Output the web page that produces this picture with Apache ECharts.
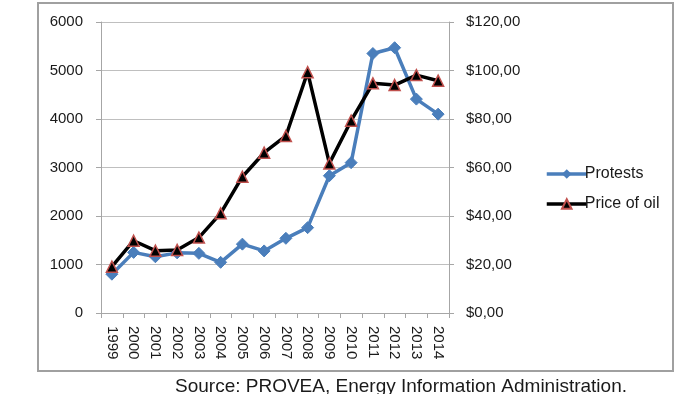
<!DOCTYPE html>
<html>
<head>
<meta charset="utf-8">
<script src="https://cdn.jsdelivr.net/npm/echarts@6/dist/echarts.min.js"></script>
<style>html,body{margin:0;padding:0;background:#fff}#c{width:700px;height:394px}</style>
</head>
<body>
<div id="c"></div>
<script>
var years = ['1999','2000','2001','2002','2003','2004','2005','2006','2007','2008','2009','2010','2011','2012','2013','2014'];
var protests = [800,1250,1160,1240,1230,1045,1420,1280,1540,1760,2830,3100,5350,5470,4410,4100];
var oilPrice = [19.1,29.8,25.7,26.0,31.1,41.1,56.2,66.1,73.0,99.3,61.7,79.3,94.7,94.0,98.1,95.8];
var sourceText = 'Source: PROVEA, Energy Information Administration.';

var chart = echarts.init(document.getElementById('c'));
var fontFam = '"Liberation Sans", Arial, sans-serif';
chart.setOption({
  animation: false,
  textStyle: { fontFamily: fontFam },
  grid: { left: 101, right: 251, top: 22, bottom: 81, containLabel: false },
  legend: {
    orient: 'vertical', left: 540, top: 161, itemGap: 14,
    itemWidth: 40, itemHeight: 12,
    lineStyle: { width: 3.5 },
    textStyle: { fontSize: 16, color: '#1a1a1a', fontFamily: fontFam, padding: [0,0,0,-7] },
    data: ['Protests', 'Price of oil']
  },
  xAxis: {
    type: 'category', data: years, boundaryGap: true,
    axisLine: { lineStyle: { color: '#a6a6a6', width: 1 } },
    axisTick: { show: true, length: 5, lineStyle: { color: '#a6a6a6' } },
    axisLabel: { rotate: -90, fontSize: 15, color: '#1a1a1a', margin: 13, interval: 0 }
  },
  yAxis: [
    { type: 'value', min: 0, max: 6000, interval: 1000, position: 'left',
      axisLine: { show: true, lineStyle: { color: '#a6a6a6' } },
      axisTick: { show: true, length: 5, inside: false, lineStyle: { color: '#a6a6a6' } },
      axisLabel: { fontSize: 15, color: '#1a1a1a', margin: 18,
        formatter: function (v) { return String(v); } },
      splitLine: { lineStyle: { color: '#bfbfbf' } } },
    { type: 'value', min: 0, max: 120, interval: 20, position: 'right',
      axisLine: { show: true, lineStyle: { color: '#a6a6a6' } },
      axisTick: { show: true, length: 5, lineStyle: { color: '#a6a6a6' } },
      axisLabel: { fontSize: 15, color: '#1a1a1a', margin: 17,
        formatter: function (v) { return '$' + v.toFixed(2).replace('.', ','); } },
      splitLine: { show: false } }
  ],
  series: [
    { name: 'Protests', type: 'line', yAxisIndex: 0, data: protests,
      symbol: 'diamond', symbolSize: 12, showAllSymbol: true,
      lineStyle: { color: '#4a7ebb', width: 3.5 },
      itemStyle: { color: '#4a7ebb', borderColor: '#4a7ebb' } },
    { name: 'Price of oil', type: 'line', yAxisIndex: 1, data: oilPrice,
      symbol: 'triangle', symbolSize: 11, showAllSymbol: true,
      lineStyle: { color: '#000000', width: 3.5 },
      itemStyle: { color: '#000000', borderColor: '#c0504d', borderWidth: 1.5 } }
  ],
  graphic: [
    { type: 'rect', shape: { x: 38, y: 3, width: 635, height: 368 },
      style: { fill: 'none', stroke: '#a0a0a0', lineWidth: 2 }, z: -1 },
    { type: 'text', left: 175, top: 377,
      style: { text: sourceText, fontSize: 19, fill: '#1a1a1a', fontFamily: fontFam } }
  ]
});
</script>
</body>
</html>
